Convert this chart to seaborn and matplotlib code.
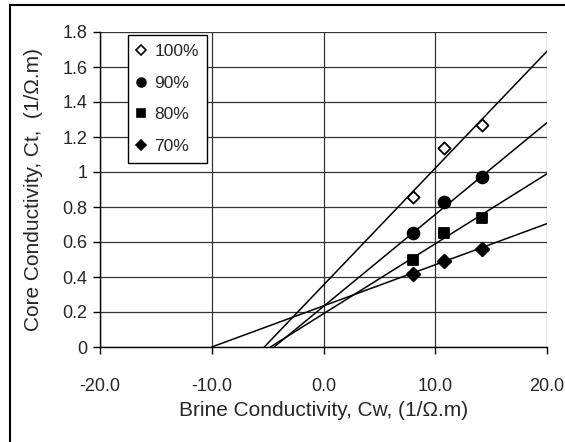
import numpy as np
import matplotlib
matplotlib.use("Agg")
import matplotlib.pyplot as plt
from matplotlib.lines import Line2D
from matplotlib.patches import Rectangle
import seaborn as sns

# data
series = ["100%", "90%", "80%", "70%"]
cw = [8.0, 10.8, 14.2]
ct_100 = [0.86, 1.14, 1.27]
ct_90 = [0.65, 0.83, 0.97]
ct_80 = [0.50, 0.65, 0.74]
ct_70 = [0.42, 0.49, 0.56]
# trend lines (slope, intercept at Cw = 0)
slopes = [0.0668, 0.0525, 0.040, 0.0235]
intercepts = [0.354, 0.232, 0.190, 0.235]

x_ticks = [-20.0, -10.0, 0.0, 10.0, 20.0]
y_ticks = [0, 0.2, 0.4, 0.6, 0.8, 1, 1.2, 1.4, 1.6, 1.8]

sns.set_style("white")
plt.rcParams["font.family"] = ["Liberation Sans", "DejaVu Sans"]

fig = plt.figure(figsize=(5.65, 4.42), dpi=100)
ax = fig.add_axes([100 / 565, 1 - 347 / 442, 447 / 565, 315 / 442])

markers = ["D", "o", "s", "D"]
faces = ["white", "black", "black", "black"]
sizes = [6.2, 8.5, 7.5, 7]
values = [ct_100, ct_90, ct_80, ct_70]

for name, vals, m, fc, s, k, b in zip(series, values, markers, faces, sizes, slopes, intercepts):
    x0 = -b / k
    xs = np.array([x0, 20.0])
    sns.lineplot(x=xs, y=k * xs + b, ax=ax, color="black", lw=1.1, zorder=3)
    sns.scatterplot(x=cw, y=vals, ax=ax, marker=m, s=s ** 2, color=fc,
                    edgecolor="black", linewidth=1.3, zorder=4)

ax.set_xlim(-20, 20)
ax.set_ylim(0, 1.8)
ax.set_xticks(x_ticks)
ax.set_xticklabels([f"{v:.1f}" for v in x_ticks])
ax.set_yticks(y_ticks)
ax.set_yticklabels([f"{v:g}" for v in y_ticks])
ax.grid(True, color="#333333", lw=0.9)
for side in ["top", "right"]:
    ax.spines[side].set_visible(False)
for side in ["left", "bottom"]:
    ax.spines[side].set_color("black")
    ax.spines[side].set_linewidth(1.0)
ax.tick_params(axis="both", direction="out", length=5, width=1, color="black",
               labelsize=13, bottom=True, left=True)
ax.tick_params(axis="x", pad=17)
ax.tick_params(axis="y", pad=4)

ax.set_xlabel("Brine Conductivity, Cw, (1/\u03a9.m)", fontsize=15)
ax.set_ylabel("Core Conductivity, Ct,  (1/\u03a9.m)", fontsize=15)
ax.xaxis.set_label_coords(0.5, -0.172)
ax.yaxis.set_label_coords(-0.128, 0.5)

handles = [Line2D([], [], marker=m, color="black", markerfacecolor=fc, ls="none",
                  markersize=s * 0.75, markeredgewidth=1.2)
           for m, fc, s in zip(markers, faces, sizes)]
leg = ax.legend(handles, series, loc="upper left", bbox_to_anchor=(0.063, 0.99),
                borderaxespad=0, fontsize=12.5, frameon=True, fancybox=False,
                framealpha=1, edgecolor="black", labelspacing=0.95, handlelength=0.5,
                handletextpad=0.5, borderpad=0.5)
leg.get_frame().set_linewidth(1.0)

fig.patches.append(Rectangle((10 / 565, -0.1), 1.2, 1.1 - 5 / 442, transform=fig.transFigure,
                             fill=False, edgecolor="black", lw=1.5, clip_on=False))

fig.savefig("out.png", dpi=100)
